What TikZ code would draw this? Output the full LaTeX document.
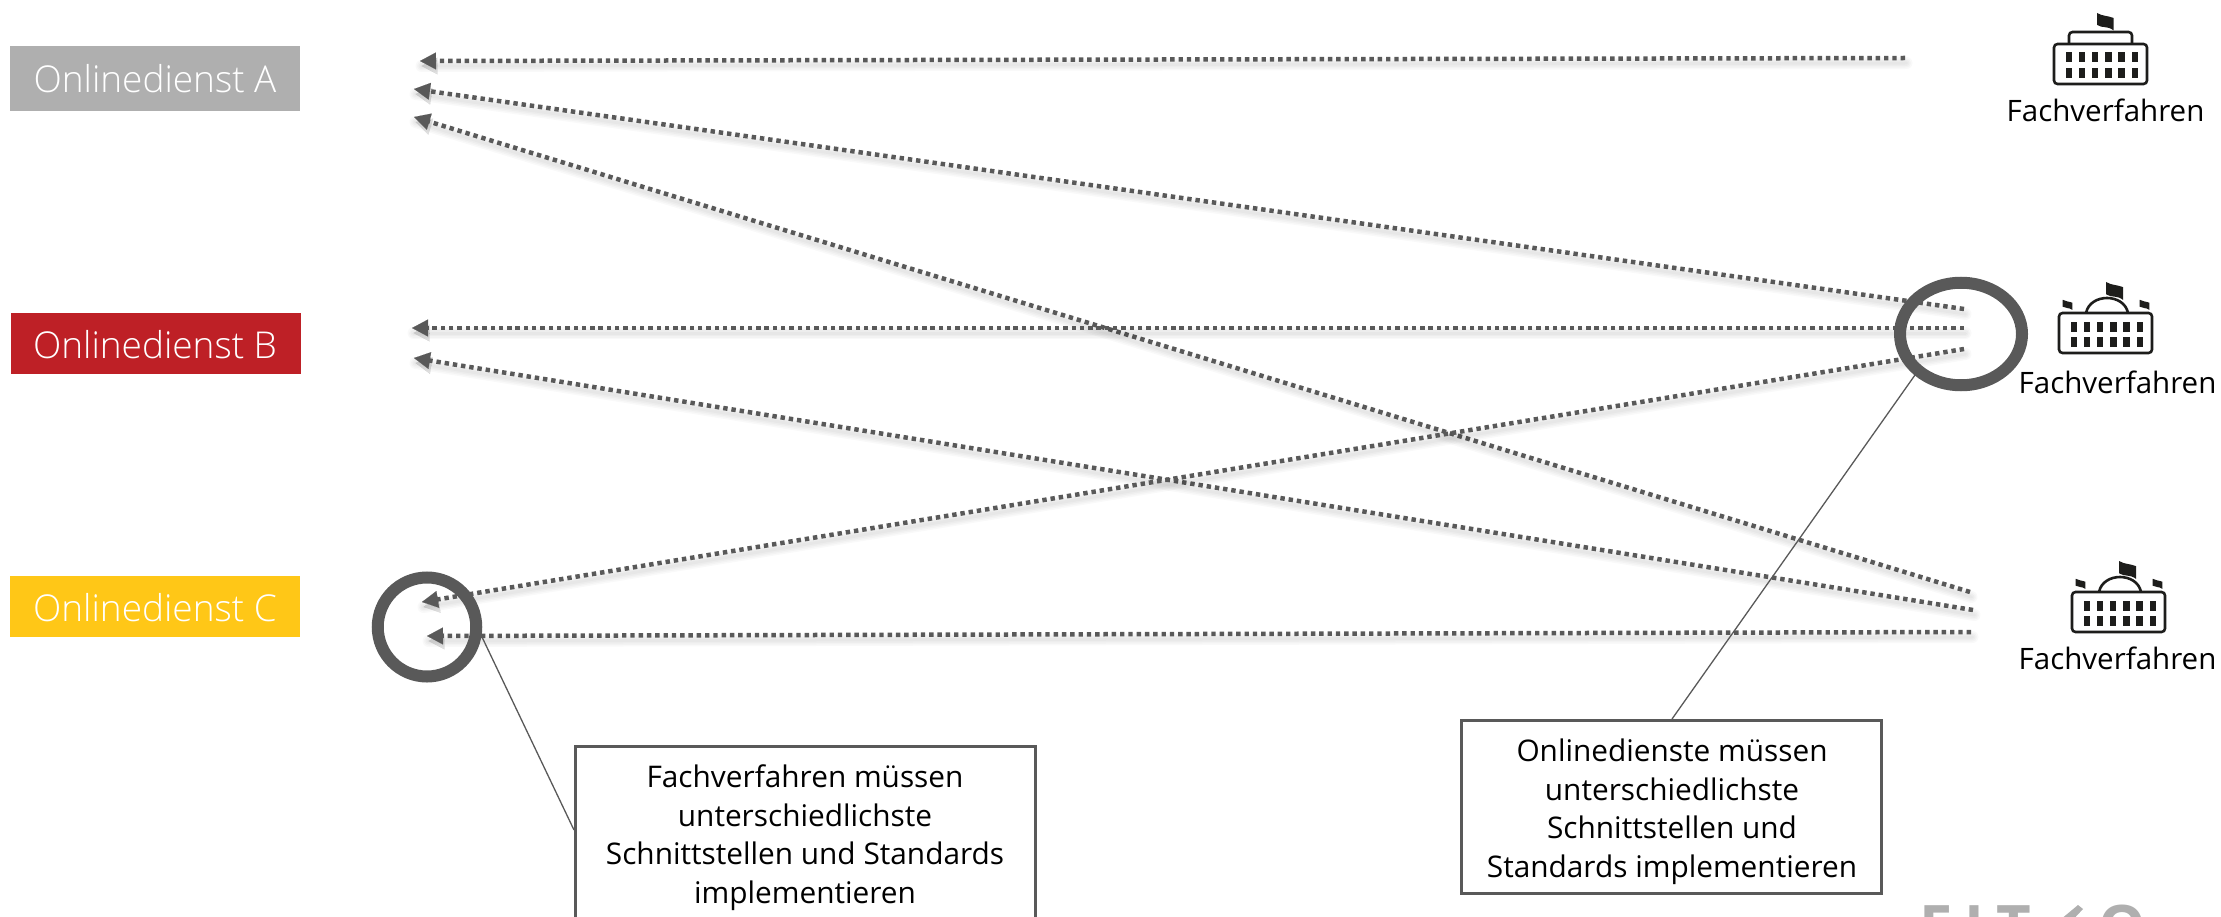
\documentclass[tikz,border=0pt]{standalone}
\usepackage{fontspec}
\setmainfont{Open Sans}
\newfontfamily\lightface{Open Sans Light}
\usetikzlibrary{arrows.meta,calc,shapes.geometric}
\definecolor{lk}{HTML}{595959}
\definecolor{ink}{HTML}{1D1D1B}
\definecolor{greyA}{HTML}{AFAFAF}
\definecolor{redB}{HTML}{BE2026}
\definecolor{yelC}{HTML}{FFC717}
\tikzset{
  x=1pt,y=-1pt,
  dienst/.style={draw=none,inner sep=0pt,outer sep=0pt,text=white,minimum width=290pt,minimum height=#1,anchor=north west},
  dienst/.default=61pt,
  dienstname/.style={anchor=base,inner sep=0pt,text=white,font=\lightface\fontsize{37}{42}\selectfont},
  hint/.style={draw=lk,line width=3pt,fill=white,inner sep=0pt,outer sep=0pt,anchor=north west},
  hinttext/.style={anchor=base,inner sep=0pt,align=center,font=\fontsize{29.8}{38.4}\selectfont,text=black},
  fvlabel/.style={anchor=base,inner sep=0pt,font=\fontsize{29.5}{34}\selectfont,text=black},
  flow/.style={line width=4.5pt,draw=lk,dash pattern=on 4.4pt off 3.9pt},
  flowtip/.style={-{Triangle[length=16pt,width=17pt]},line width=0.1pt,draw=lk,fill=lk},
  glow/.style={line width=#1,draw=black,opacity=0.025,line cap=round},
  tipglow/.style={-{Triangle[length=16pt,width=17pt]},line width=0.1pt,draw=black,fill=black,opacity=0.12},
  ring/.style={draw=lk,line width=12pt,ellipse,inner sep=0pt},
  lead/.style={draw=lk,line width=1.3pt},
  logotext/.style={anchor=base west,inner sep=0pt,text=greyA,font=\bfseries\fontsize{60}{70}\selectfont},
  pics/bodyicon/.style={code={
    \draw[ink,line width=2.6pt,rounded corners=3.5pt] (0,0) rectangle (93,40);
    \foreach \i in {0,...,5}{
      \fill[ink] ({11.5+13.2*\i},8.5) rectangle ++(6.5,10);
      \fill[ink] ({11.5+13.2*\i},24) rectangle ++(6.5,10);
    }}},
  pics/flagicon/.style={code={
    \fill[ink] (0,0) .. controls (0.35*#1,0.2*#1) and (0.6*#1,0.15*#1) .. (#1,0.3*#1) -- (#1,1.05*#1) .. controls (0.6*#1,0.75*#1) and (0.35*#1,0.95*#1) .. (0,0.72*#1) -- cycle;
  }},
  pics/domeicon/.style={code={
    \pic at (0,0) {bodyicon};
    \draw[ink,line width=2.6pt] (27,0) .. controls (31,-20) and (65,-20) .. (69,0);
    \pic at (47,-31) {flagicon=17};
    \pic at (3.7,-13.2) {flagicon=9.6};
    \pic at (80.7,-13.2) {flagicon=9.6};
  }},
  pics/roofedicon/.style={code={
    \pic at (0,0) {bodyicon};
    \draw[ink,line width=2.6pt,rounded corners=3.5pt] (15,0) -- (15,-12) -- (78,-12) -- (78,0);
    \pic at (43,-31) {flagicon=16.5};
  }},
}
\newcommand{\flowlink}[2]{%
  \foreach \w in {12,9,6,3}{\draw[glow=\w pt] ([shift={(1.5,5)}]#1) -- ([shift={(1.5,5)}]#2);}
  \draw[tipglow] ([shift={(1.5,5)}]$(#2)!16.5pt!(#1)$) -- ([shift={(1.5,5)}]#2);
  \draw[flow,shorten >=15pt] (#1) -- (#2);
  \draw[flowtip] ($(#2)!16.5pt!(#1)$) -- (#2);
}
\begin{document}
\begin{tikzpicture}
\useasboundingbox (0,0) rectangle (2221,917);
\clip (0,0) rectangle (2221,917);
% services
\node[dienst=65pt,fill=greyA] (svcA) at (10,46) {};
\node[dienst,fill=redB] (svcB) at (11,313) {};
\node[dienst,fill=yelC] (svcC) at (10,576) {};
\node[dienstname] (txtA) at (155,93) {Onlinedienst A};
\node[dienstname] (txtB) at (155,358) {Onlinedienst B};
\node[dienstname] (txtC) at (155,621) {Onlinedienst C};
% end points
\coordinate (a1) at (1905,58);  \coordinate (a2) at (420,61);
\coordinate (b1) at (1964,309); \coordinate (b2) at (414,89);
\coordinate (c1) at (1970,592); \coordinate (c2) at (414,117);
\coordinate (d1) at (1964,328); \coordinate (d2) at (412,328);
\coordinate (e1) at (1973,610); \coordinate (e2) at (414,358);
\coordinate (f1) at (1964,349); \coordinate (f2) at (422,602);
\coordinate (g1) at (1971,632); \coordinate (g2) at (427,636);
\flowlink{a1}{a2}
\flowlink{b1}{b2}
\flowlink{c1}{c2}
\flowlink{d1}{d2}
\flowlink{e1}{e2}
\flowlink{f1}{f2}
\flowlink{g1}{g2}
% rings
\node[ring,minimum width=98.5pt,minimum height=99pt] (ringL) at (427,627) {};
\node[ring,minimum width=122pt,minimum height=102.5pt] (ringR) at (1961,334) {};
% hint boxes
\node[hint,minimum width=460.5pt,minimum height=180pt] (boxL) at (575,746.5) {};
\node[hinttext] (boxLt) at (805,903) {Fachverfahren müssen\\unterschiedlichste\\Schnittstellen und Standards\\implementieren};
\node[hint,minimum width=420pt,minimum height=173pt] (boxR) at (1461.5,720.5) {};
\node[hinttext] (boxRt) at (1672,877) {Onlinedienste müssen\\unterschiedlichste\\Schnittstellen und\\Standards implementieren};
\coordinate (ringLa) at (482,637); \coordinate (boxLa) at (574,830);
\coordinate (ringRa) at (1915,375); \coordinate (boxRa) at (1672,719);
\draw[lead] (ringLa) -- (boxLa);
\draw[lead] (ringRa) -- (boxRa);
% icons
\pic at (2054,44) {roofedicon};
\pic at (2059,313) {domeicon};
\pic at (2072,592) {domeicon};
\node[fvlabel] (fv1) at (2105.5,122) {Fachverfahren};
\node[fvlabel] (fv2) at (2117.5,393) {Fachverfahren};
\node[fvlabel] (fv3) at (2117.5,669) {Fachverfahren};
% logo
\node[logotext] (logoA) at (1919,948) {F\kern 12pt I\kern 12pt T};
\fill[greyA] (2078,905) -- (2083,909) -- (2068,925) -- (2060,920) -- cycle;
\node[logotext] (logoB) at (2098,948) {O};
\end{tikzpicture}
\end{document}
